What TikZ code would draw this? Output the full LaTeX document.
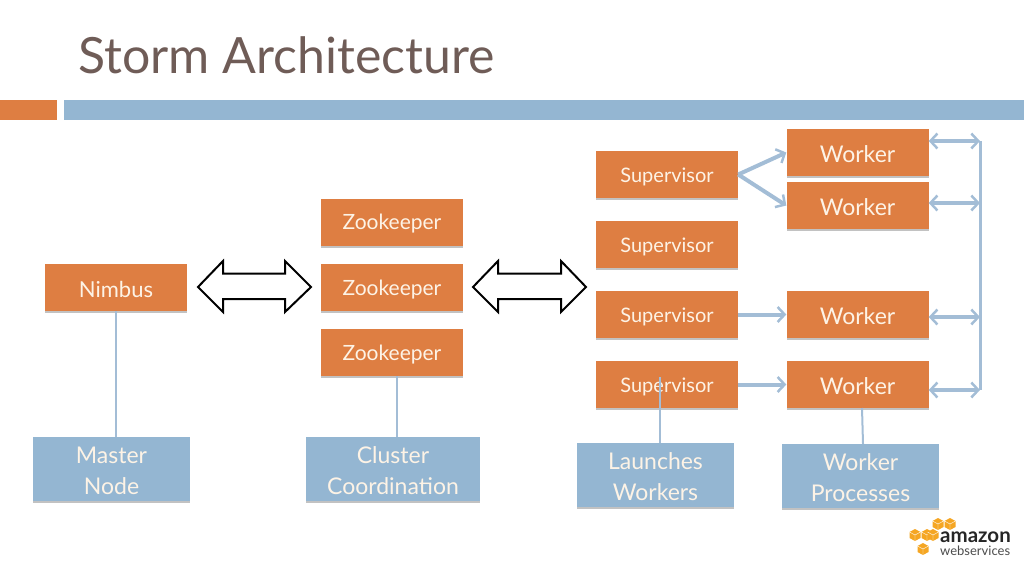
\documentclass[tikz,border=0pt]{standalone}
\usepackage{fontspec}
\setmainfont{Lato}
\usetikzlibrary{arrows.meta,shadows,calc}
\definecolor{boxor}{HTML}{DE7E42}
\definecolor{boxbl}{HTML}{94B6D2}
\definecolor{linkbl}{HTML}{A3BDD6}
\definecolor{titlec}{HTML}{6F5C57}
\definecolor{txtc}{HTML}{FDF3E6}
\definecolor{logoor}{HTML}{F5A623}
\newcommand{\dn}[1]{\raisebox{-2pt}[\height][\depth]{#1}}
\tikzset{
  shbox/.style={inner sep=0pt,align=center,text=txtc,anchor=center,
    drop shadow={shadow xshift=0pt,shadow yshift=-2pt,opacity=.4,fill=black!60}},
  orbox/.style={shbox,fill=boxor,minimum width=142pt,minimum height=47pt,font=\fontsize{21}{25}\selectfont},
  orwide/.style={orbox,font=\fontsize{20}{24}\selectfont},
  blbox/.style={shbox,fill=boxbl,minimum height=64pt,font=\fontsize{23}{31}\selectfont},
  flow/.style={linkbl,line width=4pt,-{Straight Barb[length=7pt,width=15pt,line width=2.5pt]}},
  busarrow/.style={linkbl,line width=4pt,{Straight Barb[length=7pt,width=15pt,line width=2.5pt]}-{Straight Barb[length=7pt,width=15pt,line width=2.5pt]}},
  thin link/.style={linkbl,line width=2pt},
  blockarrow/.style={draw=black,line width=2pt,fill=white,line join=miter},
  cube/.style={fill=logoor}
}
\begin{document}
\begin{tikzpicture}[x=1pt,y=-1pt]
\useasboundingbox (0,0) rectangle (1024,560);
\node[anchor=west,inner sep=0pt,text=titlec,font=\fontsize{50}{60}\selectfont] (title) at (78,55) {Storm Architecture};
\fill[boxor] (0,100) rectangle (57,120);
\fill[boxbl] (64,100) rectangle (1024,120);

\node[orbox,font=\fontsize{22}{26}\selectfont] (nimbus) at (116,287.5) {\dn{Nimbus}};
\node[orbox] (z1) at (392,222) {\dn{Zookeeper}};
\node[orbox] (z2) at (392,287.5) {\dn{Zookeeper}};
\node[orbox] (z3) at (392,352.5) {\dn{Zookeeper}};
\node[orwide] (s1) at (667,174.5) {\dn{Supervisor}};
\node[orwide] (s2) at (667,244.5) {\dn{Supervisor}};
\node[orwide] (s3) at (667,314.5) {\dn{Supervisor}};
\node[orwide] (s4) at (667,384.5) {\dn{Supervisor}};
\node[orbox,font=\fontsize{23}{27}\selectfont] (w1) at (857.5,152.5) {\dn{Worker}};
\node[orbox,font=\fontsize{23}{27}\selectfont] (w2) at (857.5,205.5) {\dn{Worker}};
\node[orbox,font=\fontsize{23}{27}\selectfont] (w3) at (857.5,314.5) {\dn{Worker}};
\node[orbox,font=\fontsize{23}{27}\selectfont] (w4) at (857.5,384.5) {\dn{Worker}};
\node[blbox,minimum width=157pt] (master) at (111.5,469) {\dn{Master}\\\dn{Node}};
\node[blbox,minimum width=174pt] (cluster) at (393,469) {\dn{Cluster}\\\dn{Coordination}};
\node[blbox,minimum width=157pt] (launch) at (655.5,475) {\dn{Launches}\\\dn{Workers}};
\node[blbox,minimum width=157pt] (procs) at (860.5,476) {\dn{Worker}\\\dn{Processes}};

% block arrows
\draw[blockarrow] (198,287) -- (223,261) -- (223,273.5) -- (285,273.5) -- (285,261) -- (311,287) -- (285,312) -- (285,299) -- (223,299) -- (223,312) -- cycle;
\draw[blockarrow] (473,287) -- (498,261) -- (498,273.5) -- (561,273.5) -- (561,261) -- (586,287) -- (561,312) -- (561,299) -- (498,299) -- (498,312) -- cycle;

% flows
\draw[flow] (s1.east) -- (w1.west);
\draw[flow] (s1.east) -- (w2.west);
\draw[flow] (s3.east) -- (w3.west);
\draw[flow] (s4.east) -- (w4.west);

% bus
\coordinate (b1) at (980,141);
\coordinate (b2) at (980,203);
\coordinate (b3) at (980,317);
\coordinate (b4) at (980,390);
\draw[linkbl,line width=3pt] (b1) -- (b4);
\draw[busarrow] (w1.east |- b1) -- (b1);
\draw[busarrow] (w2.east |- b2) -- (b2);
\draw[busarrow] (w3.east |- b3) -- (b3);
\draw[busarrow] (w4.east |- b4) -- (b4);

% thin links
\draw[thin link] (nimbus.south) -- (nimbus.south |- master.north);
\coordinate (zt) at (396.5,376);
\draw[thin link] (zt) -- (zt |- cluster.north);
\coordinate (st) at (660,377);
\draw[thin link] (st) -- (st |- launch.north);
\coordinate (wt) at (862,408);
\draw[thin link] (wt) -- (863,444);

% logo
\foreach \cx/\cy in {938/524,950/524,915/535,927/535,933/535,923/549}{
  \fill[cube] (\cx-5.5,\cy-3) -- (\cx,\cy-6) -- (\cx+5.5,\cy-3) -- (\cx+5.5,\cy+3) -- (\cx,\cy+6) -- (\cx-5.5,\cy+3) -- cycle;
  \draw[white,line width=.4pt] (\cx-5.5,\cy-3) -- (\cx,\cy) -- (\cx+5.5,\cy-3) (\cx,\cy) -- (\cx,\cy+6);
}
\node[anchor=west,inner sep=0pt,text=black!85,font=\bfseries\fontsize{20.5}{21}\selectfont] (amazon) at (940,537) {amazon};
\node[anchor=west,inner sep=0pt,text=black!70,font=\fontsize{13}{13}\selectfont] (aws) at (940,551) {webservices};
\end{tikzpicture}
\end{document}
